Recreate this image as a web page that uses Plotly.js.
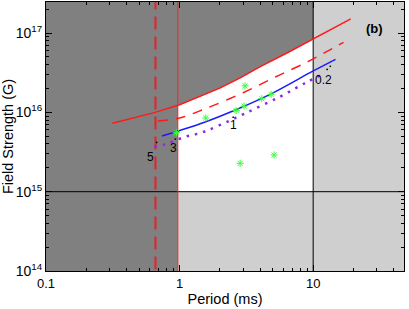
<!DOCTYPE html>
<html>
<head>
<meta charset="utf-8">
<script src="https://cdn.plot.ly/plotly-3.0.1.min.js"></script>
<style>html,body{margin:0;padding:0;background:#fff;}#chart{width:409px;height:309px;}</style>
</head>
<body>
<div id="chart"></div>
<script>
// ---- data ----
const redSolidPeriod = [0.314, 0.5, 0.647, 1.0, 1.41, 2.0, 2.82, 4.02, 6.31, 10.0, 14.1, 19.1];
const redSolidField  = [7.29e15, 8.91e15, 9.93e15, 1.25e16, 1.57e16, 2.02e16, 2.70e16, 3.78e16, 5.57e16, 8.36e16, 1.14e17, 1.51e17];

const redDashPeriod = [0.686, 1.0, 1.556, 2.99, 5.41, 8.84, 12.2, 16.9];
const redDashField  = [7.79e15, 8.5e15, 1.113e16, 1.77e16, 2.88e16, 4.24e16, 5.66e16, 7.65e16];

const bluePeriod = [0.739, 0.978, 1.556, 2.61, 4.76, 10.0, 14.7];
const blueField  = [5.04e15, 5.83e15, 7.57e15, 1.072e16, 1.69e16, 3.33e16, 4.67e16];

const purplePeriod = [0.647, 0.782, 1.071, 1.452, 2.01, 3.1, 5.65, 8.94, 11.9];
const purpleField  = [3.69e15, 3.96e15, 4.85e15, 5.55e15, 6.94e15, 9.74e15, 1.58e16, 2.40e16, 3.05e16];

const starPeriod = [0.945, 1.57, 2.65, 3.04, 3.09, 4.12, 4.84, 2.84, 5.1];
const starField  = [5.55e15, 8.5e15, 1.057e16, 1.2e16, 2.16e16, 1.49e16, 1.69e16, 2.28e15, 2.9e15];

const curveLabels      = ['5', '3', '1', '0.2'];
const curveLabelPeriod = [0.604, 0.902, 2.53, 11.9];
const curveLabelField  = [2.76e15, 3.52e15, 6.93e15, 2.56e16];
const leaderPeriodA = [0.67, 0.93, 2.52, 12.6];
const leaderFieldA  = [4.1e15, 4.5e15, 8.5e15, 3.43e16];
const leaderPeriodB = [0.69, 0.93, 2.52, 13.7];
const leaderFieldB  = [4.6e15, 4.9e15, 9.5e15, 3.96e16];

const periodLimitLow = 0.97;   // red solid vertical
const periodLimitDash = 0.66;  // red dashed vertical
const periodLimitHigh = 10;    // black vertical
const fieldLimit = 1e15;       // black horizontal

const xTicks = [0.1, 1, 10];
const yTicks = [1e14, 1e15, 1e16, 1e17];

// ---- geometry helpers ----
const XLO = 0.01, XHI = 1000, YLO = 1e12, YHI = 1e19;
const inBand = [];
for (let i = 0; i < redSolidPeriod.length; i++) {
  if (redSolidPeriod[i] >= 1 && redSolidPeriod[i] <= periodLimitHigh) inBand.push(i);
}
const bandP = inBand.map(i => redSolidPeriod[i]);
const bandB = inBand.map(i => redSolidField[i]);

const traces = [];
// white allowed region
traces.push({
  x: [periodLimitLow].concat(bandP, [periodLimitHigh, periodLimitLow]),
  y: [bandB[0]].concat(bandB, [fieldLimit, fieldLimit]),
  mode: 'lines', fill: 'toself', fillcolor: '#ffffff', line: {width: 0}, hoverinfo: 'skip'
});
// dark region
traces.push({
  x: [XLO, periodLimitLow, periodLimitLow].concat(bandP, [periodLimitHigh, periodLimitHigh, XLO]),
  y: [YLO, YLO, bandB[0]].concat(bandB, [bandB[bandB.length - 1], YHI, YHI]),
  mode: 'lines', fill: 'toself', fillcolor: '#808080', line: {width: 0}, hoverinfo: 'skip'
});
// black limit lines
traces.push({x: [XLO, XHI], y: [fieldLimit, fieldLimit], mode: 'lines', line: {color: '#000', width: 1}});
traces.push({x: [periodLimitHigh, periodLimitHigh], y: [YLO, YHI], mode: 'lines', line: {color: '#000', width: 1}});
// red verticals
traces.push({x: [periodLimitLow, periodLimitLow], y: [YLO, YHI], mode: 'lines', line: {color: '#ff2020', width: 1}});
traces.push({x: [periodLimitDash, periodLimitDash], y: [YLO, YHI], mode: 'lines', line: {color: '#e8202a', width: 2, dash: '13px,7px'}});
// curves
traces.push({x: redSolidPeriod, y: redSolidField, mode: 'lines', line: {color: '#ff1a1a', width: 1.5}});
traces.push({x: redDashPeriod, y: redDashField, mode: 'lines', line: {color: '#ff1a1a', width: 1.5, dash: '10px,8px', shape: 'spline'}});
traces.push({x: bluePeriod, y: blueField, mode: 'lines', line: {color: '#1a1aff', width: 1.5, shape: 'spline'}});
traces.push({x: purplePeriod, y: purpleField, mode: 'lines', line: {color: '#8a2be2', width: 2.5, dash: '2.5px,6px', shape: 'spline'}});
// leaders
for (let i = 0; i < curveLabels.length; i++) {
  traces.push({x: [leaderPeriodA[i], leaderPeriodB[i]], y: [leaderFieldA[i], leaderFieldB[i]],
    mode: 'lines', line: {color: '#000', width: 1.5, dash: '1.5px,3px'}});
}
// stars
traces.push({x: starPeriod, y: starField, mode: 'markers',
  marker: {symbol: 'asterisk-open', size: 6, color: '#3cff3c', line: {color: '#3cff3c', width: 1}}});

const annotations = curveLabels.map((t, i) => ({
  x: Math.log10(curveLabelPeriod[i]), y: Math.log10(curveLabelField[i]), xref: 'x', yref: 'y',
  text: t, showarrow: false, font: {family: 'Liberation Sans, Arial, sans-serif', size: 12, color: '#000'}
}));
annotations.push({x: 0.947, y: 0.936, xref: 'paper', yref: 'paper', text: '<b>(b)</b>', showarrow: false,
  font: {family: 'Liberation Sans, Arial, sans-serif', size: 13, color: '#000'}});

const axisCommon = {
  type: 'log', showgrid: false, zeroline: false, showline: true, linecolor: '#000', linewidth: 1,
  mirror: 'allticks', ticks: 'inside', ticklen: 6, tickwidth: 1, tickcolor: '#000',
  minor: {ticks: 'inside', ticklen: 3, tickcolor: '#000', tickwidth: 1, dtick: 'D1', showgrid: false},
  tickfont: {family: 'Liberation Sans, Arial, sans-serif', size: 13, color: '#000'}
};

const layout = {
  width: 409, height: 309,
  margin: {l: 46, r: 5, t: 2, b: 38},
  paper_bgcolor: '#ffffff', plot_bgcolor: '#cfcfcf',
  showlegend: false,
  xaxis: Object.assign({}, axisCommon, {
    range: [-1, 1.68], tickvals: xTicks, ticktext: xTicks.map(String),
    title: {text: 'Period (ms)', font: {family: 'Liberation Sans, Arial, sans-serif', size: 14.5, color: '#000'}, standoff: 4}
  }),
  yaxis: Object.assign({}, axisCommon, {
    range: [14, 17.392], tickvals: yTicks, ticktext: yTicks.map(v => '10<sup>' + Math.round(Math.log10(v)) + '</sup>'),
    tickfont: {family: 'Liberation Sans, Arial, sans-serif', size: 14, color: '#000'},
    title: {text: 'Field Strength (G)', font: {family: 'Liberation Sans, Arial, sans-serif', size: 14.5, color: '#000'}, standoff: 0}
  }),
  annotations: annotations
};

Plotly.newPlot('chart', traces, layout, {displayModeBar: false, staticPlot: true});
</script>
</body>
</html>
